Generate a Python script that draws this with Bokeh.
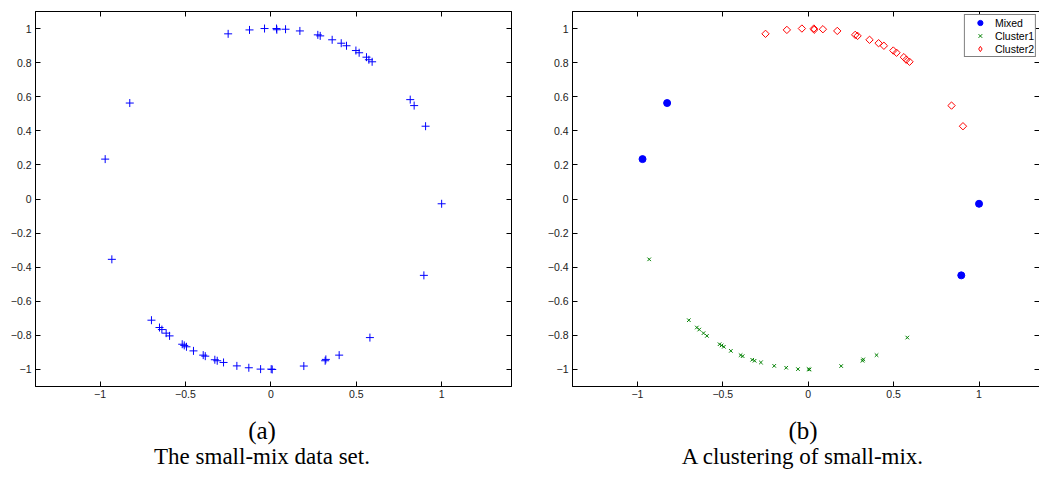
from math import pi
from bokeh.plotting import figure
from bokeh.models import (Range1d, FixedTicker, LinearAxis, Label, Legend, LegendItem,
                          CustomJSTickFormatter)
from bokeh.layouts import row, column
from bokeh.embed import file_html
from bokeh.resources import INLINE

# ---------------- data ----------------
mixed_x = [-0.970, -0.826, 1.000, 0.896]
mixed_y = [0.234, 0.563, -0.028, -0.448]

cluster1_x = [-0.931, -0.699, -0.652, -0.638, -0.613, -0.593, -0.519, -0.507, -0.494,
              -0.453, -0.396, -0.384, -0.328, -0.314, -0.277, -0.199, -0.129, -0.060,
              0.002, 0.008, 0.193, 0.318, 0.322, 0.400, 0.580]
cluster1_y = [-0.354, -0.711, -0.754, -0.766, -0.787, -0.803, -0.852, -0.859, -0.867,
              -0.891, -0.916, -0.922, -0.943, -0.949, -0.959, -0.979, -0.990, -0.998,
              -0.998, -1.000, -0.980, -0.949, -0.941, -0.916, -0.813]

cluster2_x = [-0.250, -0.125, -0.037, 0.033, 0.035, 0.086, 0.170, 0.275, 0.289, 0.359,
              0.412, 0.443, 0.498, 0.517, 0.560, 0.574, 0.593, 0.839, 0.906]
cluster2_y = [0.969, 0.992, 1.000, 1.000, 0.993, 0.996, 0.986, 0.963, 0.957, 0.934,
              0.914, 0.899, 0.871, 0.858, 0.832, 0.817, 0.805, 0.548, 0.427]

# point shown only in the data-set panel
extra_x = [0.816]
extra_y = [0.583]

all_x = mixed_x + cluster1_x + cluster2_x + extra_x
all_y = mixed_y + cluster1_y + cluster2_y + extra_y

x_ticks = [-1, -0.5, 0, 0.5, 1]
x_tick_labels = ["\u22121", "\u22120.5", "0", "0.5", "1"]
y_ticks = [-1, -0.8, -0.6, -0.4, -0.2, 0, 0.2, 0.4, 0.6, 0.8, 1]
y_tick_labels = ["\u22121", "\u22120.8", "\u22120.6", "\u22120.4", "\u22120.2", "0",
                 "0.2", "0.4", "0.6", "0.8", "1"]

sub_labels = ["(a)", "(b)"]
captions = ["The small-mix data set.", "A clustering of small-mix."]
legend_labels = ["Mixed", "Cluster1", "Cluster2"]

# ---------------- helpers ----------------
SANS = "Liberation Sans"
SERIF = "Liberation Serif"


def label_formatter(tick_values, labels):
    return CustomJSTickFormatter(
        args=dict(tvals=tick_values, tlabels=labels),
        code="""
        for (let i = 0; i < tvals.length; i++) {
            if (Math.abs(tvals[i] - tick) < 1e-9) { return tlabels[i]; }
        }
        return '';
        """)


def style_axis(ax, tick_values, labels=None):
    ax.ticker = FixedTicker(ticks=tick_values)
    ax.axis_line_color = "black"
    ax.axis_line_width = 1
    ax.major_tick_line_color = "black"
    ax.major_tick_in = 5
    ax.major_tick_out = 0
    ax.minor_tick_line_color = None
    if labels is None:
        ax.formatter = CustomJSTickFormatter(code="return '';")
        ax.major_label_text_font_size = "0px"
        ax.major_label_standoff = 0
    else:
        ax.formatter = label_formatter(tick_values, labels)
        ax.major_label_text_font = SANS
        ax.major_label_text_font_size = "10.5px"
        ax.major_label_text_color = "#222222"


def make_fig(x_start, x_end, frame_width, border_left, border_right):
    p = figure(frame_width=frame_width, frame_height=375,
               x_range=Range1d(x_start, x_end), y_range=Range1d(-1.1, 1.1),
               output_backend="svg", toolbar_location=None,
               min_border_left=border_left, min_border_right=border_right,
               min_border_top=11, min_border_bottom=16)
    p.grid.visible = False
    p.outline_line_color = "black"
    p.outline_line_width = 1
    p.background_fill_color = "white"
    p.border_fill_color = "white"
    style_axis(p.xaxis[0], x_ticks, x_tick_labels)
    p.xaxis[0].major_label_standoff = 3
    style_axis(p.yaxis[0], y_ticks, y_tick_labels)
    p.yaxis[0].major_label_standoff = 4
    top = LinearAxis()
    style_axis(top, x_ticks)
    p.add_layout(top, "above")
    right = LinearAxis()
    style_axis(right, y_ticks)
    p.add_layout(right, "right")
    return p


def make_caption(width, sub, caption, cap_x):
    c = figure(width=width, height=76, x_range=Range1d(0, 1), y_range=Range1d(0, 1),
               output_backend="svg", toolbar_location=None,
               x_axis_location=None, y_axis_location=None,
               min_border=0)
    c.grid.visible = False
    c.outline_line_color = None
    c.add_layout(Label(x=cap_x, y=48, x_units="screen", y_units="screen", text=sub,
                       text_font=SERIF, text_font_size="25px", text_color="black",
                       text_align="center", text_baseline="middle"))
    c.add_layout(Label(x=cap_x, y=22.5, x_units="screen", y_units="screen", text=caption,
                       text_font=SERIF, text_font_size="23px", text_color="black",
                       text_align="center", text_baseline="middle"))
    return c


# ---------------- left panel ----------------
p1 = make_fig(-1.378, 1.409, 476, 35, 33)
p1.scatter(all_x, all_y, marker="cross", size=8, line_color="#0000ff", line_width=1)
c1 = make_caption(544, sub_labels[0], captions[0], 226.5)

# ---------------- right panel ----------------
p2 = make_fig(-1.38, 1.354, 467, 27, 1)
r_mixed = p2.scatter(mixed_x, mixed_y, marker="circle", size=7,
                     fill_color="#0000ff", line_color="#0000ff")
r_c1 = p2.scatter(cluster1_x, cluster1_y, marker="x", size=5,
                  line_color="#008000", line_width=1)
r_c2 = p2.scatter(cluster2_x, cluster2_y, marker="square", angle=pi / 4, size=5.2,
                  fill_color=None, line_color="#ff0000", line_width=1)
# hidden renderer that only provides an upright diamond swatch for the legend
r_c2_key = p2.scatter(cluster2_x[:1], cluster2_y[:1], marker="diamond", size=9.5,
                      fill_color=None, line_color="#ff0000", line_width=1, visible=False)

legend = Legend(items=[LegendItem(label=legend_labels[0], renderers=[r_mixed]),
                       LegendItem(label=legend_labels[1], renderers=[r_c1]),
                       LegendItem(label=legend_labels[2], renderers=[r_c2_key])],
                location="top_right", margin=3, padding=1, spacing=0,
                glyph_width=28, glyph_height=13, label_height=13, label_standoff=1,
                label_text_font=SANS, label_text_font_size="10.5px",
                label_text_color="black", border_line_color="black",
                border_line_width=1, background_fill_color="white",
                background_fill_alpha=1, inactive_fill_alpha=0)
p2.add_layout(legend, "center")
c2 = make_caption(495, sub_labels[1], captions[1], 230.5)

layout = row(column(p1, c1), column(p2, c2))
open("out.html", "w").write(file_html(layout, INLINE))
